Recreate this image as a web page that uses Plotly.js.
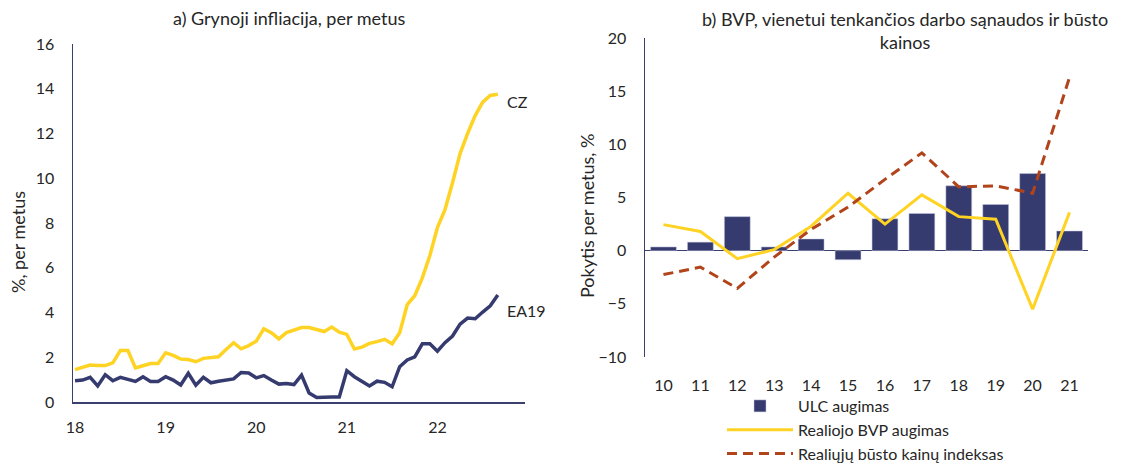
<!DOCTYPE html>
<html>
<head>
<meta charset="utf-8">
<script src="https://cdn.plot.ly/plotly-3.0.1.min.js"></script>
<style>html,body{margin:0;padding:0;background:#fff;overflow:hidden;}#chart{width:1126px;height:471px;}</style>
</head>
<body>
<div id="chart"></div>
<script>
// ---- Left panel: core inflation, monthly Jan 2018 – Sep 2022 ----
const monthIndex = Array.from({length: 57}, (_, i) => i);
const yearTickVals = [0, 12, 24, 36, 48];
const yearTickText = ['18', '19', '20', '21', '22'];
const czCore = [1.45,1.55,1.65,1.63,1.63,1.75,2.3,2.3,1.52,1.62,1.72,1.72,
                2.2,2.08,1.92,1.9,1.8,1.95,2.0,2.02,2.35,2.65,2.38,2.52,
                2.72,3.27,3.1,2.82,3.1,3.2,3.33,3.33,3.25,3.15,3.35,3.12,
                3.02,2.37,2.45,2.62,2.7,2.8,2.6,3.1,4.35,4.75,5.55,6.55,
                7.8,8.6,9.8,11.1,12.0,12.8,13.4,13.7,13.75];
const ea19Core = [0.95,0.98,1.1,0.72,1.22,0.95,1.1,1.0,0.92,1.13,0.92,0.92,
                  1.13,0.98,0.76,1.28,0.75,1.1,0.86,0.93,0.98,1.03,1.32,1.3,
                  1.08,1.18,0.98,0.8,0.83,0.78,1.2,0.4,0.2,0.22,0.22,0.22,
                  1.4,1.13,0.93,0.72,0.93,0.88,0.68,1.58,1.88,2.02,2.6,2.6,
                  2.27,2.65,2.95,3.48,3.75,3.72,4.02,4.3,4.78];

// ---- Right panel: annual changes 2010–2021 ----
const years = ['10','11','12','13','14','15','16','17','18','19','20','21'];
const ulcGrowth = [0.35,0.8,3.2,0.35,1.1,-0.85,3.0,3.5,6.1,4.35,7.25,1.85];
const realGdpGrowth = [2.45,1.8,-0.75,0.1,2.3,5.4,2.5,5.25,3.2,2.95,-5.5,3.6];
const realHousePrice = [-2.25,-1.55,-3.55,-0.6,2.0,4.1,6.7,9.2,6.0,6.1,5.4,16.3];

const NAVY = '#353B6F', YELLOW = '#FFD324', RUST = '#B2441B', TXT = '#262626', AXIS = '#3A3F6E';
const FONT = 'Lato, "Open Sans", sans-serif';
const W = 1126, H = 471;
const px = v => v / W, py = v => 1 - v / H;

const traces = [
  {x: monthIndex, y: czCore, type: 'scatter', mode: 'lines', line: {color: YELLOW, width: 3.5},
   xaxis: 'x', yaxis: 'y', showlegend: false, name: 'CZ'},
  {x: monthIndex, y: ea19Core, type: 'scatter', mode: 'lines', line: {color: NAVY, width: 3.5},
   xaxis: 'x', yaxis: 'y', showlegend: false, name: 'EA19'},
  {x: years, y: ulcGrowth, type: 'bar', marker: {color: NAVY, line: {color: '#c9cbe0', width: 0.5}},
   xaxis: 'x2', yaxis: 'y2', name: 'ULC augimas'},
  {x: years, y: realGdpGrowth, type: 'scatter', mode: 'lines', line: {color: YELLOW, width: 3},
   xaxis: 'x2', yaxis: 'y2', name: 'Realiojo BVP augimas'},
  {x: years, y: realHousePrice, type: 'scatter', mode: 'lines', line: {color: RUST, width: 3, dash: '10px,6px'},
   xaxis: 'x2', yaxis: 'y2', name: 'Realiųjų būsto kainų indeksas'}
];

const last = monthIndex.length - 1;
const layout = {
  width: W, height: H,
  margin: {l: 0, r: 0, t: 0, b: 0},
  paper_bgcolor: '#fff', plot_bgcolor: '#fff',
  font: {family: FONT, size: 16, color: TXT},
  showlegend: true,
  bargap: 0.3,
  xaxis: {domain: [px(73), px(525)], range: [-0.27, 59.6], tickvals: yearTickVals, ticktext: yearTickText,
          showgrid: false, zeroline: false, showline: true, linecolor: AXIS, linewidth: 1.5,
          ticks: '', ticklabelstandoff: 10, tickfont: {size: 16, color: TXT}, anchor: 'y'},
  yaxis: {domain: [py(402), py(44)], range: [0, 16], dtick: 2, showgrid: false, zeroline: false,
          showline: true, linecolor: AXIS, linewidth: 1.5, ticks: '', ticklabelstandoff: 14,
          tickfont: {size: 16, color: TXT}, anchor: 'x'},
  xaxis2: {domain: [px(645), px(1088)], type: 'category', range: [-0.5, 11.5], showgrid: false,
           zeroline: false, showline: false, ticks: '', ticklabelstandoff: 17,
           tickfont: {size: 16, color: TXT}, anchor: 'y2'},
  yaxis2: {domain: [py(357), py(38)], range: [-10, 20], dtick: 5, showgrid: false, zeroline: true,
           zerolinecolor: AXIS, zerolinewidth: 1.5, showline: true, linecolor: AXIS, linewidth: 1.5,
           ticks: '', ticklabelstandoff: 14, tickfont: {size: 16, color: TXT}, anchor: 'x2'},
  legend: {x: px(722), y: 0, xanchor: 'left', yanchor: 'bottom', orientation: 'v',
           font: {size: 16, color: TXT}, bgcolor: 'rgba(0,0,0,0)', tracegroupgap: 0, itemwidth: 66},
  annotations: [
    {text: 'a) Grynoji infliacija, per metus', xref: 'paper', yref: 'paper', x: px(289), y: py(18),
     xanchor: 'center', yanchor: 'middle', showarrow: false, font: {size: 18, color: TXT}},
    {text: 'b) BVP, vienetui tenkančios darbo sąnaudos ir būsto<br>kainos', xref: 'paper', yref: 'paper',
     x: px(905), y: py(31), xanchor: 'center', yanchor: 'middle', showarrow: false,
     font: {size: 18, color: TXT}},
    {text: '%, per metus', xref: 'paper', yref: 'paper', x: px(18), y: py(242), textangle: -90,
     xanchor: 'center', yanchor: 'middle', showarrow: false, font: {size: 18, color: TXT}},
    {text: 'Pokytis per metus, %', xref: 'paper', yref: 'paper', x: px(587), y: py(216), textangle: -90,
     xanchor: 'center', yanchor: 'middle', showarrow: false, font: {size: 18, color: TXT}},
    {text: 'CZ', xref: 'x', yref: 'y', x: monthIndex[last], y: czCore[last], xanchor: 'left',
     yanchor: 'middle', xshift: 7, yshift: -7, showarrow: false, font: {size: 16, color: TXT}},
    {text: 'EA19', xref: 'x', yref: 'y', x: monthIndex[last], y: ea19Core[last], xanchor: 'left',
     yanchor: 'middle', xshift: 7, yshift: -15, showarrow: false, font: {size: 16, color: TXT}}
  ]
};

Plotly.newPlot('chart', traces, layout, {staticPlot: true, displayModeBar: false});
</script>
</body>
</html>
